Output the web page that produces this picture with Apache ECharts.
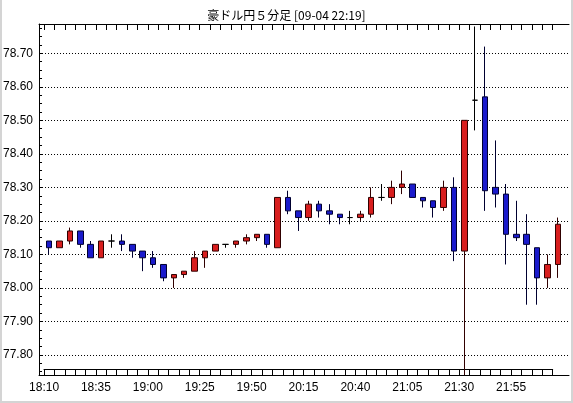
<!DOCTYPE html>
<html>
<head>
<meta charset="utf-8">
<script src="https://cdn.jsdelivr.net/npm/echarts@6/dist/echarts.min.js"></script>
<style>
  html, body { margin: 0; padding: 0; background: #fff; }
  #chart { position: absolute; left: 0; top: 0; width: 573px; height: 403px; }
  #frame { position: absolute; left: 0; top: 0; width: 573px; height: 403px; box-sizing: border-box;
           border: 2px solid #d4d4d4; border-top: none; pointer-events: none; }
</style>
</head>
<body>
<div id="chart"></div>
<div id="frame"></div>
<script>
const times = [
  "18:10", "18:15", "18:20", "18:25", "18:30", "18:35", "18:40", "18:45", "18:50", "18:55",
  "19:00", "19:05", "19:10", "19:15", "19:20", "19:25", "19:30", "19:35", "19:40", "19:45",
  "19:50", "19:55", "20:00", "20:05", "20:10", "20:15", "20:20", "20:25", "20:30", "20:35",
  "20:40", "20:45", "20:50", "20:55", "21:00", "21:05", "21:10", "21:15", "21:20", "21:25",
  "21:30", "21:35", "21:40", "21:45", "21:50", "21:55", "22:00", "22:05", "22:10", "22:15"
]
const opens = [
  78.14, 78.12, 78.14, 78.17, 78.13, 78.09, 78.14, 78.14, 78.13, 78.11,
  78.09, 78.07, 78.03, 78.04, 78.05, 78.09, 78.11, 78.13, 78.13, 78.14,
  78.15, 78.16, 78.12, 78.27, 78.23, 78.21, 78.25, 78.23, 78.22, 78.21,
  78.21, 78.22, 78.27, 78.27, 78.30, 78.31, 78.27, 78.26, 78.24, 78.30,
  78.11, 78.56, 78.57, 78.30, 78.28, 78.16, 78.16, 78.12, 78.03, 78.07
]
const closes = [
  78.12, 78.14, 78.17, 78.13, 78.09, 78.14, 78.14, 78.13, 78.11, 78.09,
  78.07, 78.03, 78.04, 78.05, 78.09, 78.11, 78.13, 78.13, 78.14, 78.15,
  78.16, 78.13, 78.27, 78.23, 78.21, 78.25, 78.23, 78.22, 78.21, 78.21,
  78.22, 78.27, 78.27, 78.30, 78.31, 78.27, 78.26, 78.24, 78.30, 78.11,
  78.50, 78.56, 78.29, 78.28, 78.16, 78.15, 78.13, 78.03, 78.07, 78.19
]
const lows = [
  78.10, 78.12, 78.13, 78.12, 78.09, 78.09, 78.12, 78.11, 78.09, 78.05,
  78.06, 78.02, 78.00, 78.03, 78.05, 78.06, 78.11, 78.12, 78.12, 78.13,
  78.14, 78.12, 78.12, 78.22, 78.17, 78.20, 78.21, 78.19, 78.19, 78.19,
  78.20, 78.21, 78.26, 78.25, 78.28, 78.27, 78.24, 78.21, 78.23, 78.08,
  77.74, 78.47, 78.23, 78.24, 78.07, 78.14, 77.95, 77.95, 78.00, 78.03
]
const highs = [
  78.14, 78.14, 78.18, 78.17, 78.14, 78.14, 78.16, 78.16, 78.13, 78.11,
  78.11, 78.07, 78.04, 78.05, 78.11, 78.11, 78.13, 78.13, 78.14, 78.16,
  78.16, 78.16, 78.27, 78.29, 78.23, 78.26, 78.26, 78.25, 78.22, 78.23,
  78.23, 78.30, 78.31, 78.32, 78.35, 78.31, 78.27, 78.26, 78.32, 78.33,
  78.50, 78.78, 78.72, 78.44, 78.31, 78.26, 78.22, 78.12, 78.10, 78.21
]
const priceLabels = [77.8, 77.9, 78.0, 78.1, 78.2, 78.3, 78.4, 78.5, 78.6, 78.7]
const timeLabels = ["18:10", "18:35", "19:00", "19:25", "19:50", "20:15", "20:40", "21:05", "21:30", "21:55"]

const candles = times.map((t, i) => [i, opens[i], closes[i], lows[i], highs[i]])
// tick marks sit on the borders between 5-minute cells
const cellEdges = times.map((t, i) => i - 0.5)
const labelPos = timeLabels.map(t => times.indexOf(t) - 0.5)
const minorTicks = []
for (let v = 77.75; v < 78.79; v += 0.025) minorTicks.push(+v.toFixed(3))

const font = "Liberation Sans"
const xMin = -0.983, xMax = 50.08
const yMin = 77.7403, yMax = 78.7874

const myChart = echarts.init(document.getElementById("chart"))

myChart.setOption({
  animation: false,
  title: {
    text: "豪ドル円５分足 [09-04 22:19]",
    left: "center",
    top: 4,
    textStyle: { color: "#000", fontSize: 12, fontWeight: "normal", fontFamily: "Noto Sans CJK JP" }
  },
  grid: [
    { left: 39, right: 4, top: 24, bottom: 28 },
    // strip of boxes under the plot
    { left: 44, right: 20.3, top: 369, height: 6 }
  ],
  xAxis: [
    {
      type: "value", gridIndex: 0, position: "bottom", min: xMin, max: xMax,
      axisLine: { onZero: false, lineStyle: { color: "#000", width: 1 } },
      axisTick: { show: true, inside: true, length: 6, customValues: cellEdges, lineStyle: { color: "#000" } },
      axisLabel: {
        customValues: labelPos, margin: 7, color: "#000", fontSize: 12, fontFamily: font,
        formatter: v => times[Math.round(v + 0.5)]
      },
      splitLine: { show: false }
    },
    {
      type: "value", gridIndex: 0, position: "top", min: xMin, max: xMax,
      axisLine: { onZero: false, lineStyle: { color: "#000", width: 1 } },
      axisTick: { show: true, inside: true, length: 6, customValues: cellEdges, lineStyle: { color: "#000" } },
      axisLabel: { show: false },
      splitLine: { show: false }
    },
    {
      type: "value", gridIndex: 1, position: "top", min: 0, max: 1,
      axisLine: { show: true, onZero: false, lineStyle: { color: "#000", width: 1 } },
      axisTick: { show: false },
      axisLabel: { show: false },
      splitLine: { show: false }
    }
  ],
  yAxis: [
    {
      type: "value", gridIndex: 0, position: "left", min: yMin, max: yMax,
      axisLine: { show: true, onZero: false, lineStyle: { color: "#000", width: 1 } },
      axisTick: { show: true, inside: true, length: 4, customValues: priceLabels, lineStyle: { color: "#000" } },
      axisLabel: {
        customValues: priceLabels, margin: 6, color: "#000", fontSize: 12, fontFamily: font,
        formatter: v => v.toFixed(2)
      },
      splitLine: { show: true, lineStyle: { color: "#000", width: 1, type: [1, 2] } }
    },
    {
      type: "value", gridIndex: 0, position: "left", min: yMin, max: yMax,
      axisLine: { show: false, onZero: false },
      axisTick: { show: true, inside: true, length: 3, customValues: minorTicks, lineStyle: { color: "#000" } },
      axisLabel: { show: false },
      splitLine: { show: false }
    },
    {
      type: "value", gridIndex: 1, min: 0, max: 1,
      axisLine: { show: false, onZero: false }, axisTick: { show: false }, axisLabel: { show: false }, splitLine: { show: false }
    }
  ],
  series: [
    {
      name: "豪ドル円",
      type: "candlestick",
      xAxisIndex: 0,
      yAxisIndex: 0,
      barWidth: 6,
      itemStyle: {
        color: "#d81e1e",
        color0: "#1a1acc",
        borderColor: "#300000",
        borderColor0: "#000030",
        borderColorDoji: "#000",
        borderWidth: 1
      },
      data: candles
    }
  ]
})

window.addEventListener("resize", () => {
  myChart.resize()
})
</script>
</body>
</html>
